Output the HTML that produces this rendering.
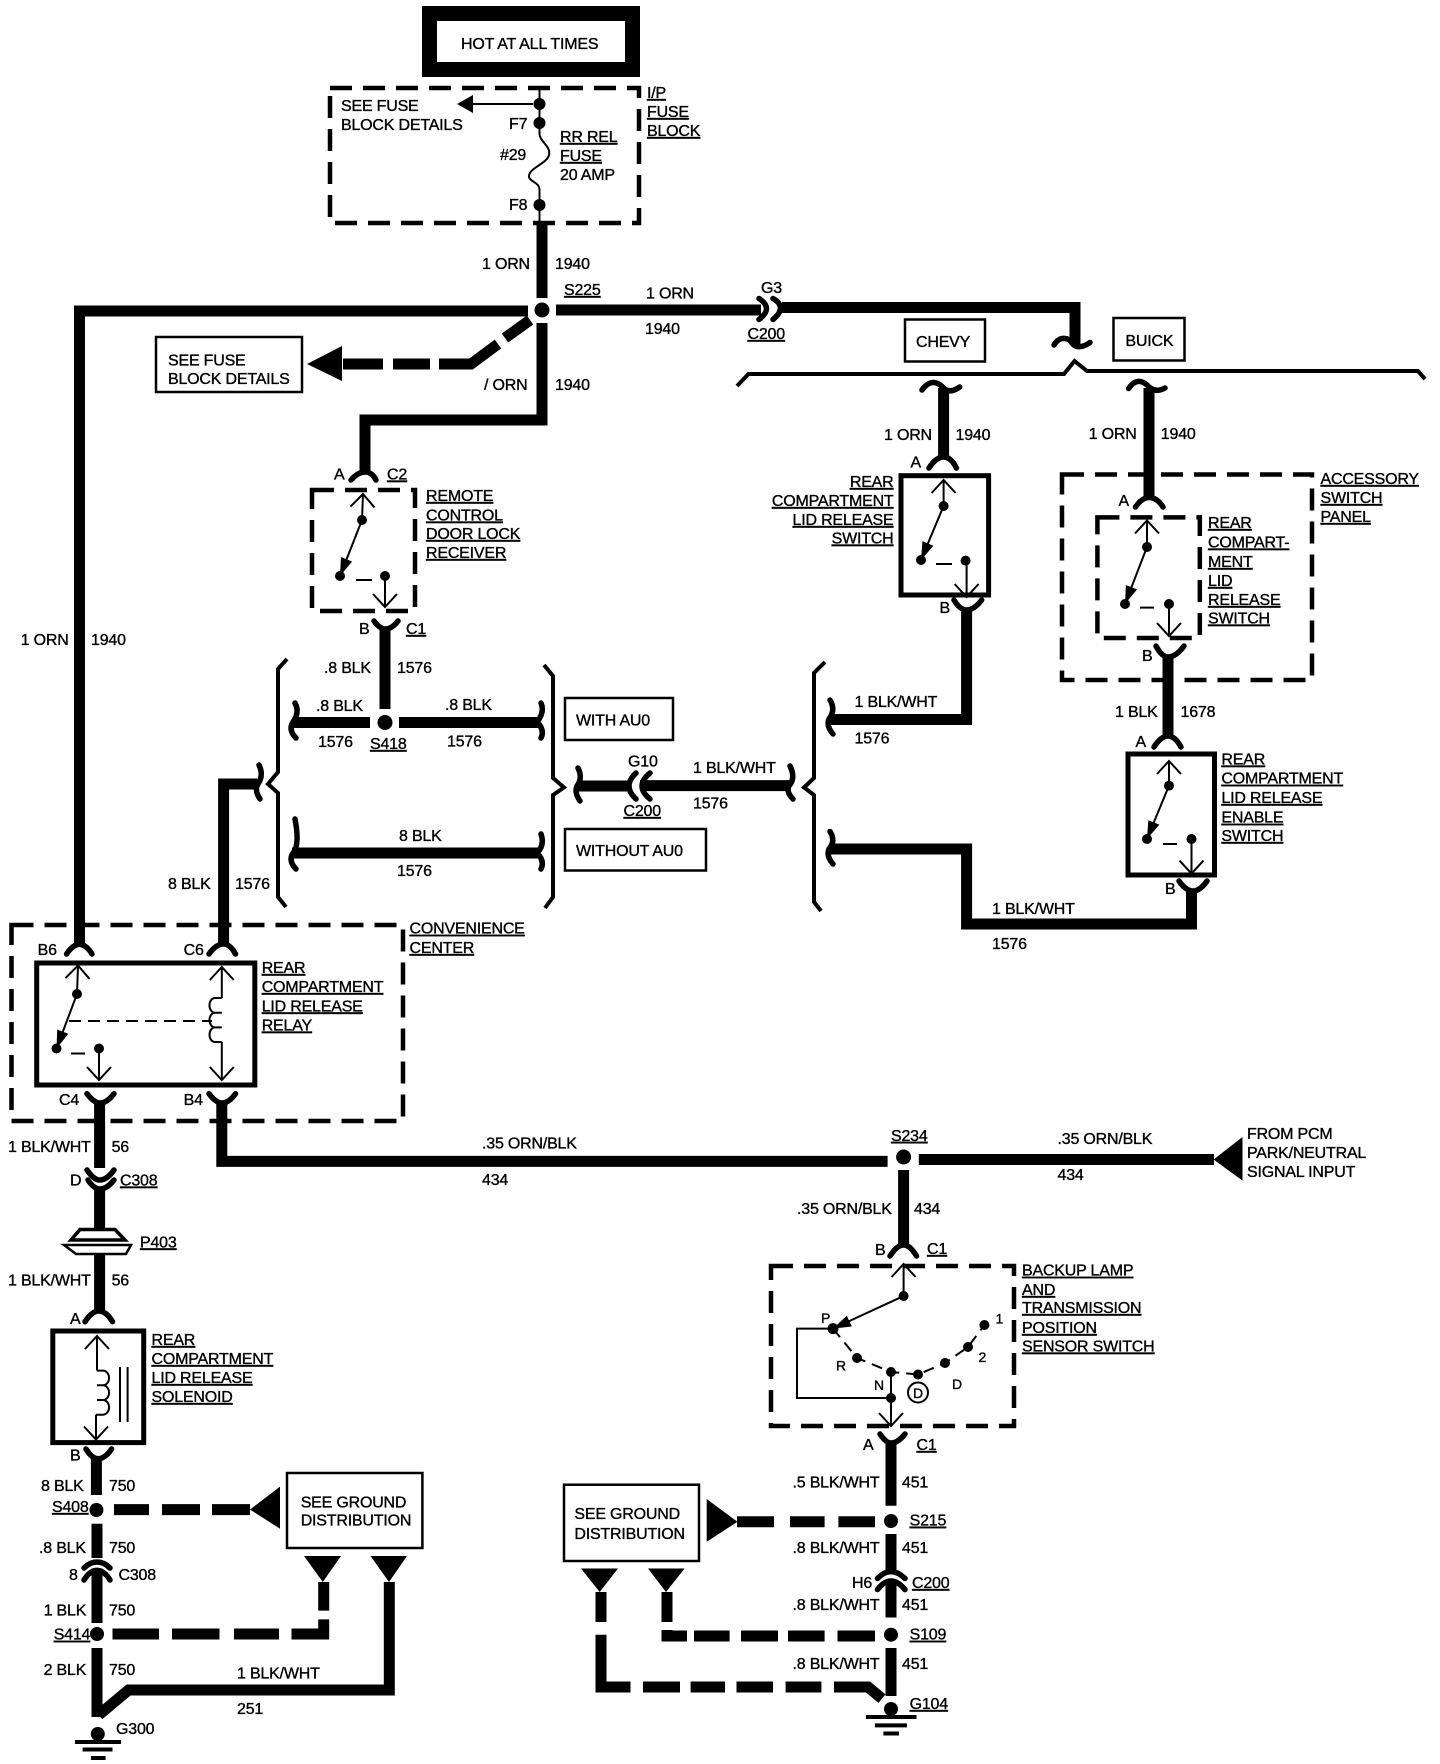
<!DOCTYPE html>
<html><head><meta charset="utf-8"><style>
html,body{margin:0;padding:0;background:#fff}
svg{display:block}
text{font-family:"Liberation Sans",sans-serif;font-size:16px;letter-spacing:-.2px;fill:#000;stroke:#000;stroke-width:.35}
.u text{text-decoration:underline}
.w{fill:none;stroke:#000;stroke-width:11}
.c{fill:none;stroke:#000;stroke-width:5.5;stroke-linecap:round}
.n{fill:none;stroke:#000;stroke-width:2}
.d{fill:none;stroke:#000;stroke-width:4.5;stroke-dasharray:22 11}
.b{fill:#fff;stroke:#000;stroke-width:2.5}
.s{fill:#fff;stroke:#000;stroke-width:5}
.h{fill:none;stroke:#000;stroke-width:4}
</style></head><body>
<svg width="1440" height="1764" viewBox="0 0 1440 1764" xmlns="http://www.w3.org/2000/svg">
<defs>
<marker id="a" markerUnits="userSpaceOnUse" markerWidth="20" markerHeight="14" refX="18" refY="7" orient="auto"><path d="M0 1L18 7L0 13Z"/></marker>
<marker id="o" markerUnits="userSpaceOnUse" markerWidth="16" markerHeight="28" refX="14" refY="14" orient="auto"><path d="M1 2L14 14L1 26" fill="none" stroke="#000" stroke-width="2"/></marker>
</defs>
<rect width="1440" height="1764" fill="#fff"/>

<!-- HOT box -->
<rect x="429.500" y="13.500" width="203" height="56" fill="#fff" stroke="#000" stroke-width="15"/>
<text x="461" y="49">HOT AT ALL TIMES</text>

<!-- Fuse block -->
<rect x="330" y="88" width="309" height="135" class="d"/>
<path class="n" d="M539.500 88V134C540 142 551 146 549 155C547 164 528 168 529 177C530 182 539.500 182 539.500 190V223"/>
<line x1="533" y1="104" x2="459" y2="104" class="n" stroke-width="2"/>
<path d="M457 104L473 95V113Z"/>
<circle cx="539.500" cy="104" r="6"/><circle cx="539.500" cy="123" r="6"/><circle cx="539.500" cy="205" r="6"/>
<text x="341" y="111">SEE FUSE</text><text x="341" y="130">BLOCK DETAILS</text>
<text x="509" y="129">F7</text><text x="500" y="160">#29</text><text x="509" y="210">F8</text>
<g class="u">
<text x="560" y="142">RR REL</text><text x="560" y="161">FUSE</text>
<text x="647" y="98">I/P</text><text x="647" y="117">FUSE</text><text x="647" y="136">BLOCK</text>
<text x="564" y="295">S225</text>
</g>
<text x="560" y="180">20 AMP</text>

<!-- top wires -->
<path class="w" d="M542 223V298"/>
<path class="w" d="M542 323V420H365V472"/>
<path class="w" d="M528 311H79.500V944"/>
<path class="w" d="M556 310H761"/>
<path class="w" d="M782 307.500H1075V344"/>
<circle cx="542" cy="310" r="7.500"/>
<path class="w" d="M343 364H383M393 364H430M439 364H471L498 344M505 338L530 320"/>
<path d="M307 364L342 346V381Z"/>
<rect x="156" y="337" width="146" height="55" class="b"/>
<text x="168" y="365.500">SEE FUSE</text><text x="168" y="384">BLOCK DETAILS</text>
<text x="482" y="269">1 ORN</text><text x="555" y="269">1940</text>
<text x="646" y="298.500">1 ORN</text><text x="645" y="334">1940</text>
<text x="484" y="390">/ ORN</text><text x="555" y="390">1940</text>
<path class="c" d="M759 298.500Q774 308 759 319.500M773 298.500Q788 307 773 319.500"/>
<text x="761" y="293">G3</text>
<g class="u"><text x="747.500" y="339">C200</text></g>
<path class="c" d="M1054 345Q1060 335 1070 340Q1076 352 1090 342.500"/>
<rect x="905" y="319.500" width="80" height="42" class="b"/><text x="916" y="347">CHEVY</text>
<rect x="1113.500" y="318" width="71" height="42.500" class="b"/><text x="1125.400" y="346">BUICK</text>
<path class="h" d="M737 386L748.500 374H1064L1074.500 361L1087 371H1418L1425 379"/>

<!-- Remote control -->
<path class="c" d="M351 480Q358 472 365 472Q372 472 376 480"/>
<text x="334" y="479.500">A</text>
<g class="u"><text x="387" y="479.500">C2</text></g>
<rect x="312" y="490" width="103" height="121" class="d"/>
<path class="n" d="M362 520L363 494" marker-end="url(#o)"/>
<path class="n" d="M362 520L340 576" marker-end="url(#a)"/>
<path class="n" d="M385 576V607" marker-end="url(#o)"/>
<path class="n" d="M356 580H372"/>
<circle cx="362" cy="520" r="5"/><circle cx="340" cy="576" r="5"/><circle cx="385" cy="576" r="5"/>
<g class="u"><text x="426" y="501">REMOTE</text><text x="426" y="520.500">CONTROL</text><text x="426" y="539">DOOR LOCK</text><text x="426" y="558">RECEIVER</text>
<text x="406" y="634">C1</text><text x="370" y="749">S418</text></g>
<path class="c" d="M374 621Q380 629 385 629Q392 629 398 621"/>
<text x="359" y="634">B</text>
<path class="w" d="M385 629V709"/>
<text x="324" y="673">.8 BLK</text><text x="397" y="673">1576</text>
<path class="w" d="M294 722.500H370M399 722.500H539"/>
<circle cx="385" cy="722.500" r="7.500"/>
<path class="c" d="M295 703Q300 712 293 722Q288 730 296 738M295 819Q300 845 293 853Q288 861 296 869"/>
<path class="c" d="M541 703Q545 712 537 722Q545 730 541 738M541 834Q545 845 537 853Q545 861 541 869"/>
<text x="316" y="711">.8 BLK</text><text x="445" y="710">.8 BLK</text>
<text x="318" y="747">1576</text><text x="447" y="746.500">1576</text>
<path class="w" d="M540 853H292"/>
<text x="399" y="841">8 BLK</text><text x="397" y="876">1576</text>
<path class="h" d="M287 659L278 669V772L268 784L278 793V897L286 907"/>
<path class="h" d="M544 665L553 676V778L564 787.500L553 795V897L545 908"/>
<path class="w" d="M223.600 944V784H257"/>
<path class="c" d="M259 765Q264 775 258 784Q254 790 260 799"/>
<text x="168" y="889">8 BLK</text><text x="235" y="889">1576</text>
<rect x="565" y="698" width="108" height="42" class="b"/><text x="576" y="725.500">WITH AU0</text>
<rect x="565" y="829" width="141" height="41.500" class="b"/><text x="576" y="856">WITHOUT AU0</text>
<path class="w" d="M578 786H627M640 785.600H789"/>
<path class="c" d="M578 768Q583 778 577 786Q574 792 580 801M636 773Q622 786 636 799M650 773Q634 786 650 799M790 766Q796 778 789 786Q786 792 793 799"/>
<text x="628" y="766.500">G10</text>
<g class="u"><text x="623.500" y="816">C200</text></g>
<text x="693" y="773">1 BLK/WHT</text><text x="693" y="808.500">1576</text>

<!-- right brace -->
<path class="h" d="M825 662L814 673V778L804 787.500L814 795V902L821 911"/>
<path class="w" d="M830 719.500H966.600V610"/>
<path class="w" d="M830 849H966.600V924H1191.500V891"/>
<path class="c" d="M830 700Q836 710 829 719Q826 726 833 734M830 831.500Q836 841 829 849Q826 856 833 864"/>
<text x="854.500" y="707">1 BLK/WHT</text><text x="854.500" y="743.500">1576</text>
<text x="992" y="914">1 BLK/WHT</text><text x="992" y="949">1576</text>

<!-- Chevy switch -->
<path class="w" d="M943.600 388V457" stroke-width="10"/>
<path class="c" d="M922 390Q932 376 943.600 388Q950 394 959.700 387M929 468Q936 457 943.600 457Q951 457 956.400 468"/>
<text x="884" y="440">1 ORN</text><text x="955.500" y="440">1940</text><text x="910.500" y="467.600">A</text>
<rect x="901" y="475.700" width="87.600" height="119.300" class="s"/>
<path class="n" d="M943.600 506V480" marker-end="url(#o)"/>
<path class="n" d="M943.600 506L921 560" marker-end="url(#a)"/>
<path class="n" d="M966.600 560V597" marker-end="url(#o)"/>
<path class="n" d="M936 564H952"/>
<circle cx="943.600" cy="506" r="5"/><circle cx="921" cy="560" r="5"/><circle cx="965.600" cy="560.600" r="5"/>
<g class="u" text-anchor="end"><text x="893.500" y="487">REAR</text><text x="893.500" y="506">COMPARTMENT</text><text x="893.500" y="525">LID RELEASE</text><text x="893.500" y="543.500">SWITCH</text></g>
<path class="c" d="M954 600Q960 610 966.600 610Q974 610 981.700 600"/>
<text x="939.500" y="613">B</text>

<!-- Buick / accessory -->
<path class="w" d="M1149 388V497.500" stroke-width="10"/>
<path class="c" d="M1128.600 388.500Q1138 375 1149 387Q1156 393 1165 388M1135.500 507Q1142 497.500 1149 497.500Q1157 497.500 1163 507"/>
<text x="1088.700" y="439">1 ORN</text><text x="1160.800" y="439">1940</text><text x="1118.500" y="506">A</text>
<rect x="1062" y="474.500" width="250" height="205.500" class="d"/>
<rect x="1097.400" y="517.400" width="102.400" height="120.600" class="d"/>
<path class="n" d="M1147 547V520.500" marker-end="url(#o)"/>
<path class="n" d="M1147 547L1125 604" marker-end="url(#a)"/>
<path class="n" d="M1169 604V636" marker-end="url(#o)"/>
<path class="n" d="M1140 607.600H1154"/>
<circle cx="1147" cy="547" r="5"/><circle cx="1125" cy="604" r="5"/><circle cx="1169" cy="604" r="5"/>
<g class="u"><text x="1320.500" y="484">ACCESSORY</text><text x="1320.500" y="503">SWITCH</text><text x="1320.500" y="522">PANEL</text>
<text x="1208" y="528">REAR</text><text x="1208" y="547.500">COMPART-</text><text x="1208" y="567">MENT</text><text x="1208" y="586">LID</text><text x="1208" y="605">RELEASE</text><text x="1208" y="623.500">SWITCH</text></g>
<path class="c" d="M1156 646Q1162 657 1168 657Q1176 657 1184 646"/>
<text x="1142" y="661">B</text>
<path class="w" d="M1168 657V736"/>
<text x="1115" y="717">1 BLK</text><text x="1180.500" y="717">1678</text>
<path class="c" d="M1154 747Q1161 736 1168 736Q1175 736 1181 747"/>
<text x="1135.500" y="747">A</text>

<!-- Enable switch -->
<rect x="1128" y="754" width="86.500" height="121" class="s"/>
<path class="n" d="M1169 785.600V761" marker-end="url(#o)"/>
<path class="n" d="M1169 785.600L1147 839" marker-end="url(#a)"/>
<path class="n" d="M1191.500 839V873.600" marker-end="url(#o)"/>
<path class="n" d="M1163 844H1177"/>
<circle cx="1169" cy="785.600" r="5"/><circle cx="1147" cy="839" r="5"/><circle cx="1191.500" cy="839" r="5"/>
<g class="u"><text x="1221.400" y="764.500">REAR</text><text x="1221.400" y="783.700">COMPARTMENT</text><text x="1221.400" y="803">LID RELEASE</text><text x="1221.400" y="822.700">ENABLE</text><text x="1221.400" y="841">SWITCH</text></g>
<path class="c" d="M1179 881Q1186 891 1193 891Q1200 891 1207 881"/>
<text x="1165" y="894">B</text>

<!-- Convenience center -->
<text x="20.700" y="645">1 ORN</text><text x="91" y="645">1940</text>
<rect x="11.500" y="925" width="391.500" height="196" class="d"/>
<g class="u"><text x="409.500" y="933.700">CONVENIENCE</text><text x="409.500" y="953">CENTER</text>
<text x="261.700" y="973">REAR</text><text x="261.700" y="992">COMPARTMENT</text><text x="261.700" y="1011.400">LID RELEASE</text><text x="261.700" y="1030.500">RELAY</text></g>
<path class="c" d="M66.600 954Q73 944.400 79.400 944.400Q86 944.400 92 954M209 954Q216 944 223.600 944Q230 944 235.500 954"/>
<text x="37.600" y="955">B6</text><text x="183.600" y="955">C6</text>
<rect x="36.700" y="963" width="218.100" height="122" class="s"/>
<path class="n" d="M77 994L78 965.500" marker-end="url(#o)"/>
<path class="n" d="M77 994L56.500 1048.500" marker-end="url(#a)"/>
<path class="n" d="M99 1048.500V1080" marker-end="url(#o)"/>
<path class="n" d="M71 1053.500H85"/>
<circle cx="77" cy="994" r="5"/><circle cx="56.500" cy="1048.500" r="5"/><circle cx="99" cy="1048.500" r="5"/>
<path class="n" d="M221.800 998V967" marker-end="url(#o)"/>
<path class="n" d="M221.800 1042V1080" marker-end="url(#o)"/>
<path class="n" d="M221.800 998H215A5.500 7.300 0 0 0 215 1012.700H221.800M215 1012.700A5.500 7.300 0 0 0 215 1027.400H221.800M215 1027.400A5.500 7.300 0 0 0 215 1042H221.800"/>
<path class="n" d="M69 1021H212" stroke-dasharray="12 7"/>
<path class="c" d="M87 1093.700Q94 1103 100 1103Q107 1103 114 1093.700M209 1093.700Q216 1103 221.800 1103Q229 1103 235.500 1093.700"/>
<text x="59" y="1105">C4</text><text x="183.600" y="1105">B4</text>
<path class="w" d="M99.600 1103V1168"/>
<path class="w" d="M221.800 1103V1161.400H887.600"/>
<text x="8" y="1152">1 BLK/WHT</text><text x="111.600" y="1152">56</text>
<text x="482" y="1148.500">.35 ORN/BLK</text><text x="482" y="1185">434</text>
<path class="c" d="M87 1170Q94 1180 99.600 1180Q107 1180 114 1170M88 1180Q94 1189 99.600 1189Q107 1189 114 1180"/>
<text x="70" y="1185.500">D</text>
<g class="u"><text x="120" y="1185.500">C308</text><text x="140" y="1247.400">P403</text></g>
<path class="w" d="M99.600 1189V1229M99.600 1254V1311"/>
<path d="M80 1229.500H115L125 1240H71Z" fill="#fff" stroke="#000" stroke-width="3.500"/>
<path d="M64 1245H131L126 1254H76Z" fill="#fff" stroke="#000" stroke-width="2.500"/>
<text x="8" y="1285.700">1 BLK/WHT</text><text x="111.600" y="1285.700">56</text>
<path class="c" d="M85 1321.700Q92 1311 98.700 1311Q106 1311 112.500 1321.700"/>
<text x="70" y="1324">A</text>

<!-- Solenoid -->
<rect x="52.800" y="1331" width="90.900" height="111.600" class="s"/>
<path class="n" d="M97 1370.600V1336" marker-end="url(#o)"/>
<path class="n" d="M96 1414.700V1439.500" marker-end="url(#o)"/>
<path class="n" d="M97 1370.600H103A6 7.300 0 0 1 103 1385.300H97M103 1385.300A6 7.300 0 0 1 103 1400H97M103 1400A6 7.300 0 0 1 103 1414.700H96"/>
<path class="n" d="M120 1367V1422M127.600 1367V1422"/>
<g class="u"><text x="151.500" y="1345">REAR</text><text x="151.500" y="1364">COMPARTMENT</text><text x="151.500" y="1383">LID RELEASE</text><text x="151.500" y="1402">SOLENOID</text></g>
<path class="c" d="M86 1449Q92 1458.700 98 1458.700Q105 1458.700 111.600 1449"/>
<text x="70" y="1460.600">B</text>
<path class="w" d="M96.400 1458V1495M97 1523.700V1558M97 1570V1623M97 1648V1717"/>
<circle cx="96.400" cy="1510" r="7"/><circle cx="97" cy="1634" r="7"/>
<text x="41" y="1491">8 BLK</text><text x="109" y="1491">750</text>
<text x="39" y="1553">.8 BLK</text><text x="109" y="1553">750</text>
<text x="69" y="1580">8</text><text x="118.500" y="1580">C308</text>
<text x="43.600" y="1615.600">1 BLK</text><text x="109" y="1615.600">750</text>
<text x="43.600" y="1675">2 BLK</text><text x="109" y="1675">750</text>
<g class="u"><text x="52" y="1512">S408</text><text x="53.700" y="1639.700">S414</text></g>
<path class="c" d="M84 1568Q90 1562 97 1562Q104 1562 110 1568M84 1580Q90 1570.400 97 1570.400Q104 1570.400 110 1580"/>
<path class="w" d="M114 1509.600H149M162 1509.600H200M212 1509.600H250"/>
<path d="M250 1509.600L280 1486.600V1528.700Z"/>
<rect x="287" y="1473" width="135.400" height="75" class="b"/>
<text x="300.700" y="1507.300">SEE GROUND</text><text x="300.700" y="1525.700">DISTRIBUTION</text>
<path d="M304 1556H341L322.800 1582Z"/><path d="M370.500 1556H407L389 1582Z"/>
<path class="w" d="M323.700 1582V1610.600M323.700 1619.400V1634H291.500M279 1634H234M219.500 1634H172M159 1634H112.500"/>
<path class="w" d="M389.300 1582V1690H128.600L98.700 1715"/>
<text x="237" y="1678.700">1 BLK/WHT</text><text x="237" y="1714">251</text>
<circle cx="97.800" cy="1734" r="7"/>
<text x="116" y="1734">G300</text>
<path class="h" d="M75 1742H121M82.600 1749.500H112.500M91 1758H105.600"/>

<!-- S234 + right -->
<circle cx="903.600" cy="1157" r="7.500"/>
<g class="u"><text x="891" y="1140.800">S234</text></g>
<path class="w" d="M918.800 1159.500H1214"/>
<path d="M1213.600 1159.500L1242.500 1137V1180.600Z"/>
<text x="1057.500" y="1144">.35 ORN/BLK</text><text x="1057.500" y="1180">434</text>
<text x="1247" y="1139">FROM PCM</text><text x="1247" y="1158">PARK/NEUTRAL</text><text x="1247" y="1177">SIGNAL INPUT</text>
<path class="w" d="M903.600 1170V1245"/>
<text x="797" y="1213.800">.35 ORN/BLK</text><text x="914" y="1213.800">434</text>
<path class="c" d="M890 1256Q897 1245 903.600 1245Q910 1245 916.500 1256"/>
<text x="875" y="1255">B</text>
<g class="u"><text x="927" y="1254">C1</text></g>

<!-- Backup lamp switch -->
<rect x="771" y="1266" width="243" height="160" class="d"/>
<path class="n" d="M903.600 1296V1264" marker-end="url(#o)"/>
<path class="n" d="M903.600 1296L833 1328.600" marker-end="url(#a)"/>
<path class="n" d="M833 1328.600H797V1398H891"/>
<path class="n" d="M891 1372V1426" marker-end="url(#o)"/>
<path class="n" d="M833 1328.600L857 1358L891 1372L918 1374.500L945 1363L968 1347L984.400 1325" stroke-dasharray="11 7"/>
<circle cx="903.600" cy="1296" r="5"/><circle cx="833" cy="1328.600" r="5.500"/><circle cx="857" cy="1358" r="5"/><circle cx="891" cy="1372" r="5"/><circle cx="891" cy="1398" r="5"/><circle cx="918" cy="1374.500" r="5"/><circle cx="945" cy="1363" r="5"/><circle cx="968" cy="1347" r="5"/><circle cx="984.400" cy="1325" r="5"/>
<circle cx="918" cy="1392.500" r="10" fill="#fff" stroke="#000" stroke-width="2"/>
<text x="913" y="1398" style="font-size:14px">D</text>
<text x="821" y="1323" style="font-size:14px">P</text><text x="836" y="1370.700" style="font-size:14px">R</text><text x="874" y="1390" style="font-size:14px">N</text><text x="952" y="1389" style="font-size:14px">D</text><text x="978.500" y="1362" style="font-size:14px">2</text><text x="995.500" y="1323.600" style="font-size:14px">1</text>
<g class="u"><text x="1022" y="1275.700">BACKUP LAMP</text><text x="1022" y="1295">AND</text><text x="1022" y="1313">TRANSMISSION</text><text x="1022" y="1333">POSITION</text><text x="1022" y="1351.500">SENSOR SWITCH</text>
<text x="916.500" y="1450">C1</text><text x="909.600" y="1525.600">S215</text><text x="912" y="1588">C200</text><text x="909.600" y="1639.700">S109</text><text x="909.600" y="1709">G104</text></g>
<path class="c" d="M880 1434Q886 1443 891 1443Q898 1443 905 1434"/>
<text x="863" y="1450">A</text>
<path class="w" d="M891 1443V1505.700M891 1534V1570M891 1581V1617.500M891 1648V1696"/>
<circle cx="891" cy="1521" r="7"/><circle cx="891" cy="1634.700" r="7"/><circle cx="891" cy="1709" r="7"/>
<text x="792.500" y="1487.400">.5 BLK/WHT</text><text x="902" y="1487.400">451</text>
<text x="792.500" y="1553">.8 BLK/WHT</text><text x="902" y="1553">451</text>
<text x="792.500" y="1610">.8 BLK/WHT</text><text x="902" y="1610">451</text>
<text x="792.500" y="1669">.8 BLK/WHT</text><text x="902" y="1669">451</text>
<text x="852" y="1588">H6</text>
<path class="c" d="M877.500 1578.500Q884 1571.600 891 1571.600Q898 1571.600 905 1578.500M877.500 1589.600Q884 1581 891 1581Q898 1581 905 1589.600"/>
<path class="w" d="M875 1521.800H838.400M824.600 1521.800H790M774 1521.800H737"/>
<path d="M737.400 1521.800L706.700 1499V1541.700Z"/>
<rect x="564" y="1484.700" width="135" height="76.300" class="b"/>
<text x="574.400" y="1519">SEE GROUND</text><text x="574.400" y="1539">DISTRIBUTION</text>
<path d="M581 1568.500H618L599.700 1592Z"/><path d="M648 1568.500H684.600L666 1592Z"/>
<path class="w" d="M601 1592V1622M601 1634.700V1687H630.500M643 1687H680M690.600 1687H725M736.500 1687H773M785.600 1687H821.400M834 1687H868L882 1698.600"/>
<path class="w" d="M667 1592V1622M667 1630V1636H687M694 1636H729.600M741 1636H778M788 1636H824.600M837.500 1636H875"/>
<path class="h" d="M866 1717H916.500M875 1725.400H907M883.400 1733.500H899"/>
</svg>
</body></html>
